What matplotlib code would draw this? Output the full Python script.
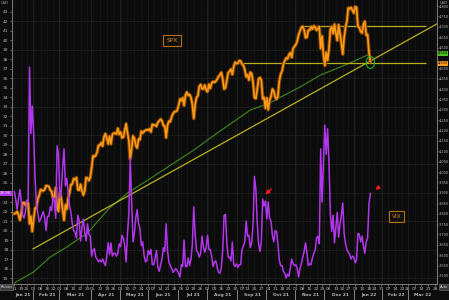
import numpy as np
import pandas as pd
import matplotlib
matplotlib.use("Agg")
import matplotlib.pyplot as plt
from matplotlib.patches import Ellipse
from matplotlib.transforms import blended_transform_factory

# trading days, first point = 2021-01-11
start = "2021-01-11"
holidays = ["2021-01-18", "2021-02-15", "2021-04-02", "2021-05-31", "2021-07-05",
            "2021-09-06", "2021-11-25", "2021-12-24", "2022-01-17", "2022-02-21"]

spx = [
    3800, 3801, 3810, 3795, 3768, 3799, 3852, 3853, 3841, 3855, 3850, 3751, 3787, 3714,
    3774, 3826, 3830, 3872, 3887, 3916, 3911, 3910, 3916, 3935, 3933, 3931, 3914, 3907, 3876, 3881, 3925, 3829, 3811,
    3902, 3870, 3820, 3768, 3842, 3821, 3875, 3899, 3939, 3943, 3969, 3963, 3974, 3915, 3913, 3941, 3910, 3889, 3910, 3974, 3971, 3959, 3973,
    4020, 4078, 4074, 4080, 4097, 4129, 4128, 4142, 4125, 4170, 4185, 4163, 4135, 4173, 4135, 4180, 4188, 4187, 4183, 4211, 4181,
    4193, 4165, 4168, 4202, 4233, 4188, 4152, 4063, 4112, 4174, 4163, 4128, 4116, 4159, 4156, 4197, 4188, 4196, 4201, 4204,
    4202, 4208, 4193, 4230, 4226, 4227, 4220, 4239, 4247, 4255, 4247, 4224, 4222, 4166, 4225, 4246, 4242, 4266, 4281, 4291, 4292, 4297,
    4320, 4352, 4343, 4358, 4321, 4370, 4385, 4369, 4374, 4360, 4327, 4258, 4323, 4359, 4367, 4412, 4422, 4401, 4401, 4419, 4395,
    4387, 4423, 4403, 4429, 4436, 4432, 4437, 4448, 4461, 4468, 4480, 4448, 4400, 4406, 4442, 4479, 4486, 4496, 4470, 4509, 4529, 4523,
    4524, 4537, 4535, 4520, 4514, 4493, 4459, 4469, 4443, 4481, 4474, 4433, 4358, 4354, 4396, 4449, 4455, 4443, 4353, 4359, 4307,
    4357, 4300, 4346, 4364, 4400, 4391, 4361, 4351, 4364, 4438, 4471, 4486, 4520, 4536, 4550, 4545, 4566, 4575, 4552, 4596, 4605,
    4614, 4631, 4661, 4680, 4697, 4702, 4685, 4647, 4649, 4683, 4683, 4701, 4689, 4704, 4698, 4683, 4691, 4701, 4595, 4655, 4567,
    4513, 4577, 4538, 4592, 4687, 4701, 4667, 4712, 4669, 4634, 4710, 4669, 4621, 4568, 4649, 4697, 4726, 4791, 4786, 4793, 4779, 4766,
    4797, 4793, 4701, 4696, 4677, 4670, 4713, 4726, 4659, 4663, 4577, 4533,
]

vix = [
    24.1, 23.3, 22.2, 23.3, 24.3, 23.2, 21.6, 21.3, 21.9, 23.2, 23.0, 37.2, 30.2, 33.1,
    30.2, 25.6, 22.9, 21.8, 20.9, 21.2, 21.6, 22.0, 21.3, 20.0, 21.5, 21.5, 22.5, 22.1, 23.5, 23.1, 21.3, 28.9, 28.0,
    23.4, 24.1, 26.7, 28.6, 24.7, 25.5, 24.0, 22.6, 21.9, 20.7, 20.0, 19.8, 19.2, 21.6, 21.0, 18.9, 20.3, 21.2, 19.8, 18.9, 20.7, 19.6, 19.4,
    17.3, 17.9, 18.1, 17.2, 17.0, 16.7, 16.9, 16.7, 17.0, 16.6, 16.3, 17.3, 18.7, 17.5, 18.7, 17.3, 17.6, 17.6, 17.3, 17.6, 18.6,
    18.3, 19.5, 19.2, 18.4, 16.7, 19.7, 21.8, 27.6, 23.1, 18.8, 19.7, 21.3, 22.2, 20.7, 20.2, 18.4, 18.8, 17.4, 16.7, 16.8,
    17.9, 17.5, 18.0, 16.4, 16.4, 17.1, 17.9, 16.1, 15.7, 16.4, 17.0, 18.2, 17.8, 20.7, 17.9, 16.7, 16.3, 16.0, 15.6, 15.8, 16.0, 15.8,
    15.5, 15.1, 16.4, 16.2, 19.0, 16.2, 16.2, 17.1, 16.3, 17.0, 18.5, 22.5, 19.7, 17.9, 17.7, 17.2, 17.6, 19.4, 18.3, 17.7, 18.2,
    19.5, 18.0, 18.0, 17.3, 16.2, 16.7, 16.8, 16.1, 15.6, 15.5, 16.1, 17.9, 21.6, 21.7, 18.6, 17.2, 17.2, 16.8, 18.8, 16.4, 16.2, 16.5,
    16.1, 16.4, 16.4, 18.0, 18.4, 18.8, 21.0, 19.4, 19.5, 18.2, 18.7, 20.8, 25.7, 24.4, 20.9, 18.6, 17.8, 18.8, 23.3, 22.6, 23.1,
    21.2, 23.0, 21.3, 21.0, 19.5, 18.8, 20.0, 19.9, 18.6, 16.9, 16.3, 16.3, 15.7, 15.5, 15.0, 15.4, 15.2, 16.0, 17.0, 16.5, 16.3,
    16.4, 16.0, 15.1, 16.0, 16.5, 17.2, 17.8, 18.7, 17.7, 16.3, 16.5, 16.4, 17.1, 17.6, 17.9, 19.2, 19.4, 18.6, 28.6, 23.0, 27.2,
    31.1, 28.0, 30.7, 27.2, 21.9, 19.9, 21.6, 18.7, 20.3, 21.9, 19.3, 20.6, 21.6, 22.9, 19.7, 18.6, 18.0, 17.7, 17.5, 17.0, 17.3, 17.2,
    16.6, 16.9, 19.7, 19.6, 18.8, 19.4, 18.4, 17.6, 18.8, 19.2, 22.8, 23.9,
]

# moving average (trading-day index, level)
ma_x = [0, 14, 26, 38, 53, 69, 82, 98, 130, 147, 171, 185, 207, 222, 231, 243, 256]
ma_y = [3466, 3519, 3591, 3639, 3707, 3827, 3899, 3967, 4106, 4188, 4299, 4333, 4410, 4468, 4492, 4525, 4564]

# trend line and horizontal levels
tl_x = [13.5, 306]
tl_y = [3630, 4713]
lvl_y = [4704, 4525]
lvl_x0 = [207, 163]
lvl_x1 = 298

month_firsts = ["2021-02-01", "2021-03-01", "2021-04-01", "2021-05-01", "2021-06-01", "2021-07-01",
                "2021-08-01", "2021-09-01", "2021-10-01", "2021-11-01", "2021-12-01", "2022-01-01",
                "2022-02-01", "2022-03-01"]
month_names = ["Jan 21", "Feb 21", "Mar 21", "Apr 21", "May 21", "Jun 21", "Jul 21", "Aug 21",
               "Sep 21", "Oct 21", "Nov 21", "Dec 21", "Jan 22", "Feb 22", "Mar 22"]

x = np.arange(len(spx))
xmin, xmax = -1.7, 306.3

bg = "#0c0c0c"
txt = "#b8b8b8"
fs = 3.2

fig = plt.figure(figsize=(4.49, 3.0), dpi=100, facecolor=bg)
ax2 = fig.add_axes([12 / 449, 16 / 300, 425 / 449, 284 / 300])   # SPX, drawn below
ax2.set_facecolor(bg)
ax = ax2.twinx()                                                  # VIX, drawn on top
ax.patch.set_visible(False)
ax2.yaxis.tick_right()
ax2.yaxis.set_label_position("right")
ax.yaxis.tick_left()
ax.yaxis.set_label_position("left")

# weekly ticks
mondays = np.arange(np.datetime64("2021-01-11"), np.datetime64("2022-04-01"), 7)
tdays = np.busday_offset(mondays, 0, roll="forward", holidays=holidays)
wpos = np.busday_count(start, tdays, holidays=holidays)
wlab = ["%02d" % d for d in pd.to_datetime(tdays).day]
ax2.set_xticks(wpos)
ax2.set_xticklabels(wlab)
ax2.set_xlim(xmin, xmax)

mfirst = np.busday_offset(np.array(month_firsts, dtype="datetime64[D]"), 0, roll="forward", holidays=holidays)
mpos = np.busday_count(start, mfirst, holidays=holidays)
edges = [xmin] + list(mpos) + [xmax]
tr = blended_transform_factory(ax2.transData, ax2.transAxes)
for i, name in enumerate(month_names):
    ax2.text((edges[i] + edges[i + 1]) / 2, -0.04, name, transform=tr, ha="center", va="center",
             fontsize=fs, color=txt, fontweight="bold")
for p in mpos:
    ax2.plot([p - 0.5, p - 0.5], [-0.052, -0.022], transform=tr, color="#9a9a9a", lw=0.6, clip_on=False)
    ax2.axvline(p - 0.5, color="#282828", lw=0.5, zorder=0)
for p in wpos:
    ax2.axvline(p, color="#181818", lw=0.5, zorder=0)

# left axis: VIX (the label under the last-value tag is hidden, as on the terminal)
ax.set_ylim(14.37, 44.26)
vt = [v for v in range(15, 44) if v != int(round(vix[-1]))]
ax.set_yticks(vt)
ax.set_yticklabels([str(v) for v in vt])
vtr = blended_transform_factory(ax2.transAxes, ax.transData)
for v in range(15, 44, 3):
    ax2.plot([0, 1], [v, v], transform=vtr, color="#222222", lw=0.5, zorder=0)

# right axis: SPX
ax2.set_ylim(3461, 4829)
st = [v for v in range(3500, 4801, 50) if v != 4550]
ax2.set_yticks(st)
ax2.set_yticklabels(["{:,}".format(v) for v in st])

for a in (ax, ax2):
    a.tick_params(axis="both", labelsize=fs, colors=txt, length=1.5, width=0.4, pad=1)
    for s in a.spines.values():
        s.set_color("#7a7a7a")
        s.set_linewidth(0.7)
    a.spines["top"].set_visible(False)
ax2.tick_params(axis="y", labelsize=2.5, pad=0.3, length=0.8)
ax.tick_params(axis="x", length=0)

# series
ax2.plot(ma_x, ma_y, color="#3f8a1c", lw=0.8, zorder=2)
ax2.plot(tl_x, tl_y, color="#b8b21e", lw=0.9, zorder=2)
ax2.hlines(lvl_y, lvl_x0, lvl_x1, color="#b8b21e", lw=0.9, zorder=2)
ax2.plot(x, spx, color="#7a4200", lw=2.6, zorder=3)
ax2.plot(x, spx, color="#ff9b1a", lw=1.2, zorder=4)
ax.plot(x, vix, color="#b236ec", lw=1.1, zorder=5)

ax2.add_patch(Ellipse((x[-1], spx[-1] - 5), 6, 58, fill=False, ec="#22b522", lw=0.8, zorder=6))

# red arrows
sep = 180
ax.annotate("", xy=(sep + 0.5, vix[sep] + 0.3), xytext=(7, 6.5), textcoords="offset points",
            arrowprops=dict(arrowstyle="-|>", color="#ff1a1a", lw=1.1, mutation_scale=5))
ax.annotate("", xy=(x[-1] + 2, vix[-1] + 0.2), xytext=(6, 4.5), textcoords="offset points",
            arrowprops=dict(arrowstyle="-|>", color="#ff1a1a", lw=1.1, mutation_scale=5))

# labels
box = dict(boxstyle="square,pad=0.5", fc="none", ec="#b8700c", lw=0.8)
fig.text(172 / 449, 1 - 40.5 / 300, "SPX", fontsize=4.2, color="#d98a1e", ha="center", va="center", bbox=box)
fig.text(396.5 / 449, 1 - 216.5 / 300, "VIX", fontsize=4.2, color="#d98a1e", ha="center", va="center", bbox=box)

ax.text(-0.002, vix[-1], "%.2f" % vix[-1], transform=blended_transform_factory(ax.transAxes, ax.transData),
        ha="right", va="center", fontsize=2.8, color="white",
        bbox=dict(boxstyle="square,pad=0.15", fc="#b236ec", ec="none"), zorder=10)
rtr = blended_transform_factory(ax2.transAxes, ax2.transData)
ax2.text(1.002, ma_y[-1] + 8, "{:,.0f}".format(ma_y[-1]), transform=rtr, ha="left", va="center",
         fontsize=2.5, color="black", bbox=dict(boxstyle="square,pad=0.15", fc="#4cc21e", ec="none"), zorder=10)
ax2.text(1.002, spx[-1] - 8, "{:,.0f}".format(spx[-1]), transform=rtr, ha="left", va="center",
         fontsize=2.5, color="black", bbox=dict(boxstyle="square,pad=0.15", fc="#ff9b1a", ec="none"), zorder=10)

fig.text(0.5 / 449, 1 - 0.5 / 300, "USD", fontsize=2.6, color=txt, ha="left", va="top")
fig.text(448 / 449, 1 - 0.5 / 300, "USD", fontsize=2.6, color=txt, ha="right", va="top")
sbox = dict(boxstyle="square,pad=0.2", fc="#3a3a3a", ec="#777777", lw=0.4)
fig.text(0.5 / 449, 1 - 287 / 300, "Relativ", fontsize=2.5, color="#dddddd", ha="left", va="center", bbox=sbox)
fig.text(448 / 449, 1 - 287 / 300, "Auto", fontsize=2.5, color="#dddddd", ha="right", va="center", bbox=sbox)

fig.savefig("out.png", dpi=100, facecolor=bg)
